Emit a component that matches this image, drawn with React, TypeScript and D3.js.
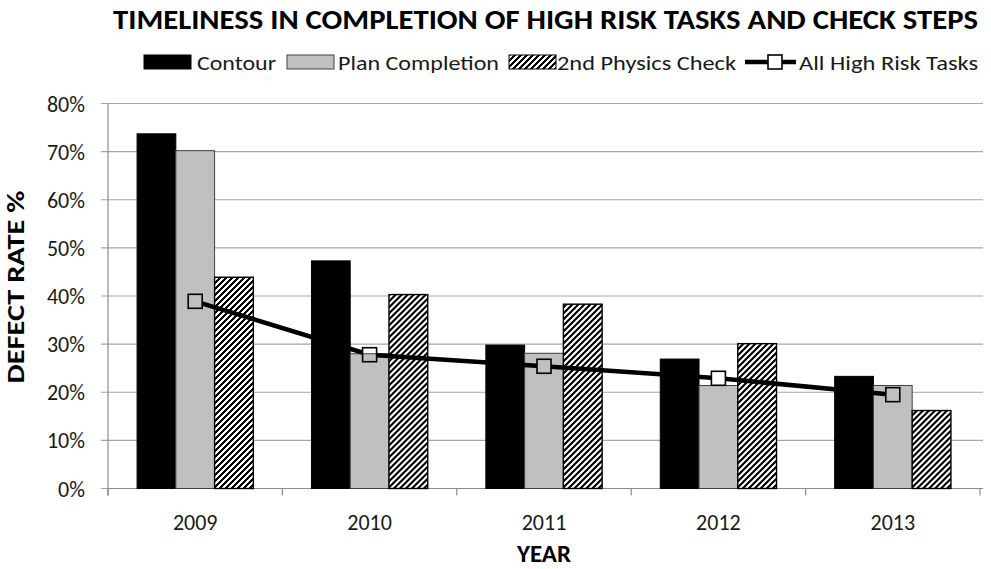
import React from "react";
import * as d3 from "d3";

const years = ["2009", "2010", "2011", "2012", "2013"];
const seriesNames = ["Contour", "Plan Completion", "2nd Physics Check"];
const contour = [73.7, 47.3, 29.8, 26.9, 23.3];
const planCompletion = [70.2, 28.0, 28.1, 21.4, 21.4];
const physicsCheck = [43.9, 40.3, 38.3, 30.1, 16.2];
const allHighRisk = [38.9, 27.8, 25.4, 22.9, 19.5];
const yTicks = [0, 10, 20, 30, 40, 50, 60, 70, 80];
const lineName = "All High Risk Tasks";
const titleText = "TIMELINESS IN COMPLETION OF HIGH RISK TASKS AND CHECK STEPS";

const W = 991;
const H = 569;
const FONT = "Carlito, Calibri, Lato, sans-serif";

export default function App() {
  const left = 108, right = 980, top = 103.5, bottom = 488.5;
  const x0 = d3.scaleBand<string>().domain(years).range([left, right]).padding(0);
  const x1 = d3
    .scaleBand<string>()
    .domain(seriesNames)
    .range([0, x0.bandwidth()])
    .paddingInner(0)
    .paddingOuter(0.75);
  const y = d3.scaleLinear().domain([0, 80]).range([bottom, top]);
  const seriesData = [contour, planCompletion, physicsCheck];
  const fills = ["#000000", "#c0c0c0", "url(#hatch)"];
  const strokes = ["#000000", "#404040", "#000000"];
  const cx = (i: number) => (x0(years[i]) as number) + x0.bandwidth() / 2;
  const line = d3
    .line<number>()
    .x((_, i) => cx(i))
    .y((d) => y(d));
  const ms = 14;

  // legend
  const legY = 62;
  const legendItems = [
    { sx: 144, tx: 197, tl: 79, kind: 0 },
    { sx: 287, tx: 338, tl: 161, kind: 1 },
    { sx: 509, tx: 557, tl: 179, kind: 2 },
    { sx: 745, tx: 799, tl: 179, kind: 3 },
  ];
  const legNames = [...seriesNames, lineName];

  return (
    <svg
      width={W}
      height={H}
      style={{ position: "absolute", left: 0, top: 0, background: "#fff" }}
      fontFamily={FONT}
    >
      <defs>
        <pattern id="hatch" patternUnits="userSpaceOnUse" width={6} height={6}>
          <rect width={6} height={6} fill="#fff" />
          <path
            d="M-1,7 L7,-1 M-4,4 L4,-4 M2,10 L10,2"
            stroke="#000"
            strokeWidth={2.6}
            shapeRendering="crispEdges"
          />
        </pattern>
        <mask id="lineMask" maskUnits="userSpaceOnUse" x={0} y={0} width={W} height={H}>
          <rect x={0} y={0} width={W} height={H} fill="#fff" />
          {allHighRisk.map((d, i) => (
            <rect key={i} x={cx(i) - ms / 2} y={y(d) - ms / 2} width={ms} height={ms} fill="#000" />
          ))}
          <rect x={775 - ms / 2} y={legY - ms / 2} width={ms} height={ms} fill="#000" />
        </mask>
      </defs>
      <rect width={W} height={H} fill="#fff" />

      {/* title */}
      <text
        x={113}
        y={29}
        fontSize={28}
        fontWeight="bold"
        textLength={865}
        lengthAdjust="spacingAndGlyphs"
      >
        {titleText}
      </text>

      {/* gridlines */}
      {yTicks.map((t) => (
        <line key={t} x1={left - 7} x2={983} y1={y(t)} y2={y(t)} stroke="#a6a6a6" strokeWidth={1.2} />
      ))}
      {/* y axis */}
      <line x1={left} x2={left} y1={top} y2={bottom + 7} stroke="#8c8c8c" strokeWidth={1.2} />
      {yTicks.map((t) => (
        <text key={t} x={85} y={y(t) + 8} textAnchor="end" fontSize={22} fill="#1a1a1a">
          {t + "%"}
        </text>
      ))}
      {/* x axis ticks */}
      {years.concat(["end"]).map((yr, i) => {
        const xx = i < years.length ? (x0(yr) as number) : right;
        return <line key={yr} x1={xx} x2={xx} y1={bottom} y2={bottom + 7} stroke="#8c8c8c" strokeWidth={1.2} />;
      })}
      <line x1={left} x2={983} y1={bottom} y2={bottom} stroke="#8c8c8c" strokeWidth={1.2} />

      {/* bars */}
      {years.map((yr, i) => (
        <g key={yr} transform={`translate(${x0(yr)},0)`}>
          {seriesNames.map((s, k) => (
            <rect
              key={s}
              x={x1(s)}
              y={y(seriesData[k][i])}
              width={x1.bandwidth()}
              height={bottom - y(seriesData[k][i])}
              fill={fills[k]}
              stroke={strokes[k]}
              strokeWidth={k === 2 ? 1.4 : 1}
            />
          ))}
        </g>
      ))}

      {/* line */}
      <path d={line(allHighRisk) || ""} fill="none" stroke="#000" strokeWidth={4.5} mask="url(#lineMask)" />
      {allHighRisk.map((d, i) => (
        <rect
          key={i}
          x={cx(i) - ms / 2}
          y={y(d) - ms / 2}
          width={ms}
          height={ms}
          fill="none"
          stroke="#000"
          strokeWidth={1.6}
        />
      ))}

      {/* x labels */}
      {years.map((yr, i) => (
        <text key={yr} x={cx(i)} y={530} textAnchor="middle" fontSize={22} fill="#1a1a1a">
          {yr}
        </text>
      ))}
      <text x={(left + right) / 2} y={562} textAnchor="middle" fontSize={25} fontWeight="bold">
        YEAR
      </text>
      <text
        transform={`translate(24,287) rotate(-90)`}
        textAnchor="middle"
        fontSize={24}
        fontWeight="bold"
        textLength={193}
        lengthAdjust="spacingAndGlyphs"
      >
        DEFECT RATE %
      </text>

      {/* legend */}
      {legendItems.map((it, k) => (
        <g key={k}>
          {k < 3 ? (
            <rect
              x={it.sx}
              y={legY - 7}
              width={47}
              height={14}
              fill={fills[k]}
              stroke={strokes[k]}
              strokeWidth={1}
            />
          ) : (
            <g>
              <line x1={it.sx} x2={it.sx + 51} y1={legY} y2={legY} stroke="#000" strokeWidth={4.5} mask="url(#lineMask)" />
              <rect x={775 - ms / 2} y={legY - ms / 2} width={ms} height={ms} fill="none" stroke="#000" strokeWidth={1.6} />
            </g>
          )}
          <text x={it.tx} y={legY + 7.5} fontSize={21} textLength={it.tl} lengthAdjust="spacingAndGlyphs" fill="#1a1a1a">
            {legNames[k]}
          </text>
        </g>
      ))}
    </svg>
  );
}
